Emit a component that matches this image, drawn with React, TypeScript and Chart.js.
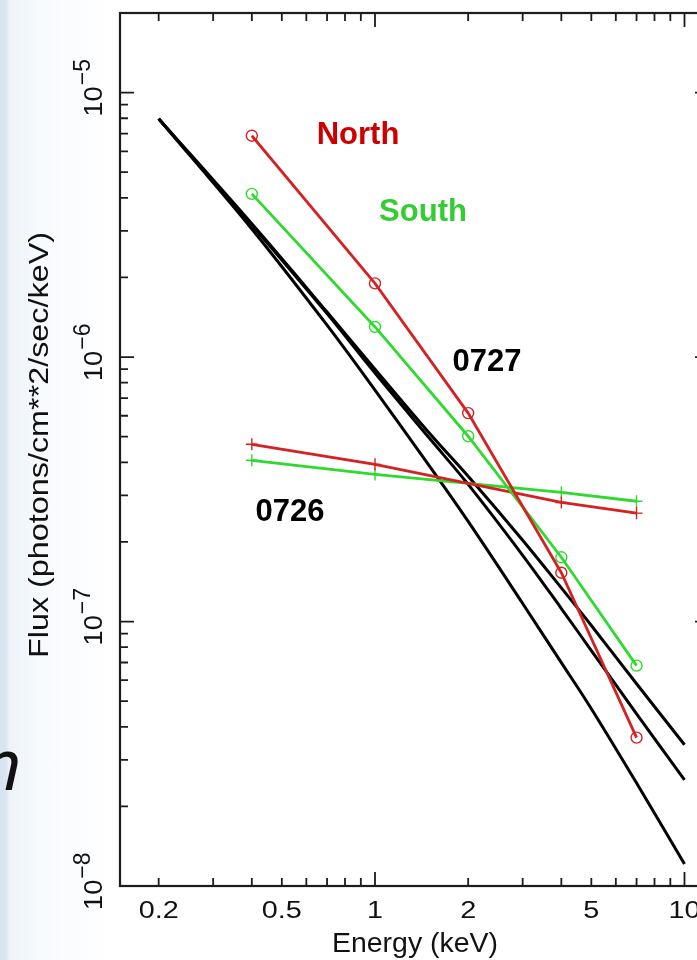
import React, { useEffect, useRef } from "react";
import { Chart, registerables } from "chart.js";

Chart.register(...registerables);

// ---- data ----
const modelEnergies = [0.2, 0.4, 0.7, 1, 1.5, 2, 3, 4, 5, 7, 10];
const modelA = [7.97e-6, 3.19e-6, 1.48e-6, 9.0e-7, 5.15e-7, 3.54e-7, 2.03e-7, 1.34e-7, 9.66e-8, 5.82e-8, 3.42e-8];
const modelB = [7.97e-6, 3.16e-6, 1.46e-6, 8.7e-7, 4.93e-7, 3.3e-7, 1.78e-7, 1.12e-7, 7.77e-8, 4.48e-8, 2.52e-8];
const modelC = [7.97e-6, 3.05e-6, 1.32e-6, 7.5e-7, 3.87e-7, 2.39e-7, 1.17e-7, 6.99e-8, 4.68e-8, 2.45e-8, 1.21e-8];

const energies0727 = [0.4, 1, 2, 4, 7];
const north0727 = [6.87e-6, 1.9e-6, 6.14e-7, 1.53e-7, 3.64e-8];
const south0727 = [4.14e-6, 1.3e-6, 5.02e-7, 1.75e-7, 6.81e-8];

const energies0726 = [0.4, 1, 4, 7];
const north0726 = [4.68e-7, 3.93e-7, 2.82e-7, 2.57e-7];
const south0726 = [4.07e-7, 3.6e-7, 3.08e-7, 2.85e-7];

const xTickValues = [0.2, 0.5, 1, 2, 5, 10];
const xTickLabels = ["0.2", "0.5", "1", "2", "5", "10"];
const yTickExponents = [-8, -7, -6, -5];

const xTitle = "Energy (keV)";
const yTitle = "Flux (photons/cm**2/sec/keV)";

const X_MIN = 0.15;
const X_MAX = 12;
const Y_MIN = 1e-8;
const Y_MAX = 2e-5;

const RED = "#d42222";
const GREEN = "#2fd92f";

const pts = (xs: number[], ys: number[]) => xs.map((x, i) => ({ x, y: ys[i] }));

function drawText(
  ctx: CanvasRenderingContext2D,
  text: string,
  x: number,
  y: number,
  font: string,
  opts: { align?: CanvasTextAlign; rot?: number; sx?: number; width?: number; color?: string } = {}
) {
  ctx.save();
  ctx.translate(x, y);
  if (opts.rot) ctx.rotate(opts.rot);
  ctx.font = font;
  let sx = opts.sx ?? 1;
  if (opts.width) sx = opts.width / ctx.measureText(text).width;
  ctx.scale(sx, 1);
  ctx.textAlign = opts.align ?? "center";
  ctx.textBaseline = "alphabetic";
  ctx.fillStyle = opts.color ?? "#111";
  ctx.fillText(text, 0, 0);
  ctx.restore();
}

const backdropPlugin = {
  id: "backdrop",
  beforeDraw(chart: any) {
    const ctx: CanvasRenderingContext2D = chart.ctx;
    ctx.save();
    ctx.font = "italic 72px 'Open Sans'";
    ctx.fillStyle = "#111";
    ctx.textBaseline = "alphabetic";
    ctx.fillText("n", -20, 790);
    ctx.restore();
  },
};

const framePlugin = {
  id: "frame",
  afterDatasetsDraw(chart: any) {
    const ctx: CanvasRenderingContext2D = chart.ctx;
    const a = chart.chartArea;
    const xs = chart.scales.x;
    const ys = chart.scales.y;
    ctx.save();
    ctx.strokeStyle = "#1c1c1c";
    ctx.lineWidth = 2.2;
    ctx.strokeRect(a.left, a.top, a.right - a.left, a.bottom - a.top);

    ctx.lineWidth = 1.8;
    ctx.beginPath();
    for (let d = -1; d <= 1; d++) {
      for (let m = 1; m <= 9; m++) {
        const v = m * Math.pow(10, d);
        if (v < X_MIN || v > X_MAX) continue;
        const px = xs.getPixelForValue(v);
        const len = m === 1 ? 14 : 8;
        ctx.moveTo(px, a.bottom);
        ctx.lineTo(px, a.bottom - len);
        ctx.moveTo(px, a.top);
        ctx.lineTo(px, a.top + len);
      }
    }
    for (let d = -8; d <= -5; d++) {
      for (let m = 1; m <= 9; m++) {
        const v = m * Math.pow(10, d);
        if (v < Y_MIN * 0.999 || v > Y_MAX * 1.001) continue;
        const py = ys.getPixelForValue(v);
        const len = m === 1 ? 14 : 8;
        ctx.moveTo(a.left, py);
        ctx.lineTo(a.left + len, py);
        ctx.moveTo(a.right, py);
        ctx.lineTo(a.right - len, py);
      }
    }
    ctx.stroke();
    ctx.restore();

    // x tick labels
    xTickValues.forEach((v, i) => {
      const px = xs.getPixelForValue(v);
      drawText(ctx, xTickLabels[i], px, a.bottom + 32, "24px 'Liberation Sans'", { sx: 1.2 });
    });

    // y tick labels (rotated, 10^e)
    yTickExponents.forEach((e) => {
      const py = ys.getPixelForValue(Math.pow(10, e));
      ctx.save();
      ctx.translate(a.left - 18, py + 24);
      ctx.rotate(-Math.PI / 2);
      ctx.fillStyle = "#111";
      ctx.textAlign = "left";
      ctx.textBaseline = "alphabetic";
      ctx.font = "26px 'Liberation Sans'";
      const base = "10";
      const wb = ctx.measureText(base).width * 1.05;
      ctx.save();
      ctx.scale(1.05, 1);
      ctx.fillText(base, 0, 0);
      ctx.restore();
      ctx.font = "23px 'Liberation Sans'";
      ctx.fillText("\u2212" + String(Math.abs(e)), wb + 1, -12);
      ctx.restore();
    });

    // axis titles
    drawText(ctx, xTitle, 415, 952, "27px 'Liberation Sans'", { width: 166 });
    drawText(ctx, yTitle, 48, 445, "28px 'Liberation Sans'", { width: 426, rot: -Math.PI / 2 });

    // annotations
    const bold = "bold 31px 'Liberation Sans'";
    drawText(ctx, "North", 358, 144, bold, { color: "#cc0000" });
    drawText(ctx, "South", 423, 221, bold, { color: "#33cc33" });
    drawText(ctx, "0727", 487, 371, bold, { color: "#000" });
    drawText(ctx, "0726", 290, 521, bold, { color: "#000" });
  },
};

export default function App() {
  const ref = useRef<HTMLCanvasElement>(null);
  useEffect(() => {
    if (!ref.current) return;
    const obs = (data: any, color: string, style: string, radius: number) => ({
      data,
      borderColor: color,
      borderWidth: 2.8,
      pointStyle: style,
      pointRadius: radius,
      pointBorderWidth: 1.4,
      pointBorderColor: color,
      pointBackgroundColor: "rgba(0,0,0,0)",
      tension: 0,
      fill: false,
    });
    const model = (data: any) => ({
      data,
      borderColor: "#000",
      borderWidth: 3,
      pointRadius: 0,
      tension: 0.35,
      fill: false,
    });
    const chart = new Chart(ref.current, {
      type: "line",
      data: {
        datasets: [
          obs(pts(energies0727, north0727), RED, "circle", 5.5),
          obs(pts(energies0727, south0727), GREEN, "circle", 5.5),
          obs(pts(energies0726, north0726), RED, "cross", 6),
          obs(pts(energies0726, south0726), GREEN, "cross", 6),
          model(pts(modelEnergies, modelA)),
          model(pts(modelEnergies, modelB)),
          model(pts(modelEnergies, modelC)),
        ] as any,
      },
      options: {
        responsive: false,
        animation: false,
        events: [],
        layout: { padding: { left: 120, top: 13, right: 21, bottom: 74 } },
        plugins: { legend: { display: false }, tooltip: { enabled: false } },
        scales: {
          x: { type: "logarithmic", min: X_MIN, max: X_MAX, display: false },
          y: { type: "logarithmic", min: Y_MIN, max: Y_MAX, display: false },
        },
      } as any,
      plugins: [backdropPlugin, framePlugin],
    });
    return () => chart.destroy();
  }, []);
  return (
    <div
      style={{
        position: "fixed",
        left: 0,
        top: 0,
        width: 697,
        height: 960,
        overflow: "hidden",
        background:
          "linear-gradient(to right, #d6e4f0 0px, #dbe7f2 7px, #edf3f9 9px, #f7fafd 40px, #ffffff 110px)",
      }}
    >
      <canvas ref={ref} width={730} height={960} style={{ display: "block" }} />
    </div>
  );
}
